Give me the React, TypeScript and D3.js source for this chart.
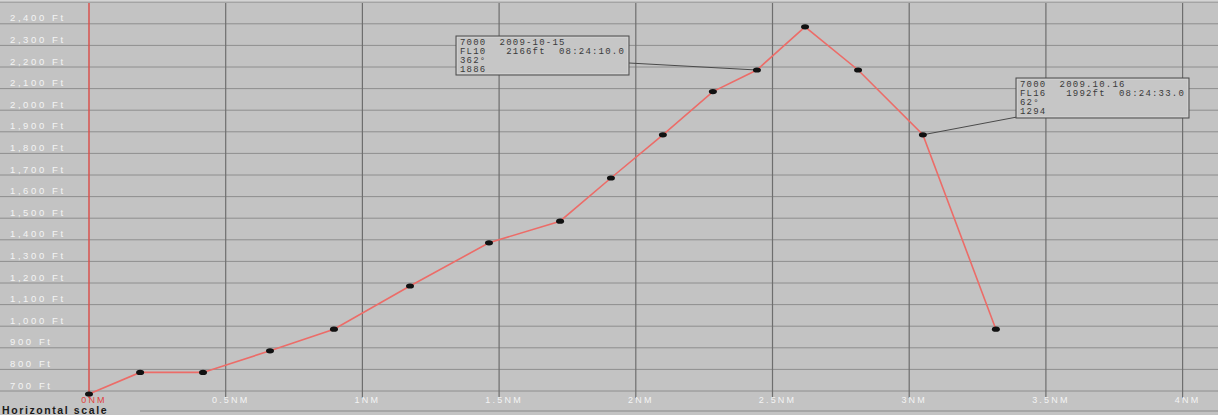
import React from "react";
import * as d3 from "d3";

// ---- data ----
const distancesNM: number[] = [0, 0.187, 0.417, 0.662, 0.896, 1.174, 1.463, 1.723, 1.909, 2.099, 2.282, 2.443, 2.619, 2.813, 3.05, 3.317];
const altitudesFt: number[] = [700, 800, 800, 900, 1000, 1200, 1400, 1500, 1700, 1900, 2100, 2200, 2400, 2200, 1900, 1000];
const xTickValues: number[] = [0, 0.5, 1, 1.5, 2, 2.5, 3, 3.5, 4];
const xTickLabels: string[] = ["0NM", "0.5NM", "1NM", "1.5NM", "2NM", "2.5NM", "3NM", "3.5NM", "4NM"];
const yGridValues: number[] = d3.range(700, 2501, 100);
const yLabelValues: number[] = d3.range(700, 2401, 100);
const note1Lines: string[] = ["7000  2009-10-15", "FL10   2166ft  08:24:10.0", "362°", "1886"];
const note2Lines: string[] = ["7000  2009.10.16", "FL16   1992ft  08:24:33.0", "62°", "1294"];
const note1Index = 11;
const note2Index = 14;

const W = 1218;
const H = 415;

export default function App() {
  const x = d3.scaleLinear().domain([0, 4]).range([89, 1182.6]);
  const y = d3.scaleLinear().domain([700, 2500]).range([393, 4.2]);
  const fmt = d3.format(",");
  const pts = distancesNM.map((d, i) => [x(d), y(altitudesFt[i])] as [number, number]);
  const line = d3.line<[number, number]>().x((d) => d[0]).y((d) => d[1]);

  const bg = "#c3c3c3";
  const labelFont = "'Liberation Sans', Arial, sans-serif";
  const monoFont = "'Liberation Mono', 'DejaVu Sans Mono', monospace";

  const box = (lines: string[], bx: number, by: number, bw: number, bh: number) => (
    <g>
      <rect x={bx} y={by} width={bw} height={bh} fill="#c6c6c6" stroke="#4a4a4a" strokeWidth={1} />
      <rect x={bx + 1.5} y={by + 1.5} width={bw - 3} height={bh - 3} fill="none" stroke="#d6d6d6" strokeWidth={0.6} />
      {lines.map((t, i) => (
        <text key={i} x={bx + 4} y={by + 9 + i * 9} fontFamily={monoFont} fontSize={9} letterSpacing={1.2} fill="#3a3a3a" style={{ whiteSpace: "pre" }}>
          {t}
        </text>
      ))}
    </g>
  );

  const p1 = pts[note1Index];
  const p2 = pts[note2Index];

  return (
    <div style={{ position: "fixed", left: 0, top: 0, width: W, height: H }}>
      <svg width={W} height={H} style={{ display: "block" }}>
        <rect x={0} y={0} width={W} height={H} fill={bg} />
        <rect x={0} y={0} width={W} height={3} fill="#d4d4d4" />
        {/* horizontal grid */}
        {yGridValues.map((v) => (
          <line key={v} x1={0} x2={W} y1={y(v) - 2} y2={y(v) - 2} stroke="#8e8e8e" strokeWidth={1} />
        ))}
        {/* vertical grid */}
        {xTickValues.slice(1).map((v) => (
          <line key={v} x1={x(v)} x2={x(v)} y1={3} y2={398} stroke="#6e6e6e" strokeWidth={1.2} />
        ))}
        {/* zero axis */}
        <line x1={x(0)} x2={x(0)} y1={3} y2={398} stroke="#d9524e" strokeWidth={1.5} />
        {/* y labels */}
        {yLabelValues.map((v) => (
          <text key={v} x={10} y={y(v) - 4.5} fontFamily={labelFont} fontSize={9.5} letterSpacing={2.6} fill="#f4f4f4">
            {`${fmt(v)} Ft`}
          </text>
        ))}
        {/* x labels */}
        {xTickValues.map((v, i) => (
          <text key={v} x={x(v) + 5} y={402.5} textAnchor="middle" fontFamily={labelFont} fontSize={9} letterSpacing={2.2} fill={i === 0 ? "#e0413c" : "#f4f4f4"}>
            {xTickLabels[i]}
          </text>
        ))}
        {/* leader lines and notes */}
        <line x1={629} y1={63} x2={p1[0]} y2={p1[1] + 1} stroke="#4a4a4a" strokeWidth={1} />
        <line x1={1017} y1={117} x2={p2[0]} y2={p2[1] + 1} stroke="#4a4a4a" strokeWidth={1} />
        {box(note1Lines, 456, 36, 173, 39)}
        {box(note2Lines, 1016, 78, 173, 40)}
        {/* data */}
        <g transform="translate(0,1)">
          <path d={line(pts) ?? ""} fill="none" stroke="#ec6c68" strokeWidth={1.6} />
          {pts.map((p, i) => (
            <ellipse key={i} cx={p[0]} cy={p[1]} rx={4} ry={2.6} fill="#111" />
          ))}
        </g>
        {/* footer */}
        <text x={2} y={414} fontFamily={labelFont} fontSize={10.5} fontWeight="bold" letterSpacing={1.6} fill="#1a1a1a">
          Horizontal scale
        </text>
        <line x1={140} x2={W} y1={411} y2={411} stroke="#8a8a8a" strokeWidth={1.2} />
      </svg>
    </div>
  );
}
